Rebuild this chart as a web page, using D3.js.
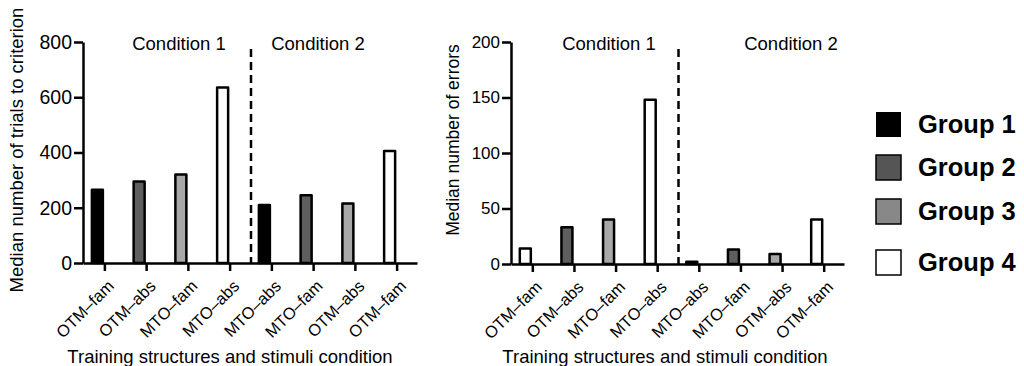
<!DOCTYPE html>
<html>
<head>
<meta charset="utf-8">
<script src="https://cdn.jsdelivr.net/npm/d3@7"></script>
<style>
  body { margin: 0; background: #fff; }
  svg { font-family: "Liberation Sans", Arial, sans-serif; }
  .axis path, .axis line { stroke: #000; stroke-width: 2.5px; }
</style>
</head>
<body>
<div id="chart"></div>
<script>
// categories (x labels, same for both panels)
const categories = ["OTM–fam", "OTM–abs", "MTO–fam", "MTO–abs", "MTO–abs", "MTO–fam", "OTM–abs", "OTM–fam"];
const conditions = ["Condition 1", "Condition 2"];

// left panel: median trials to criterion
const trialsValues = [265, 295, 320, 635, 210, 245, 215, 405];
const trialsGroups = [1, 2, 3, 4, 1, 2, 3, 4];
const trialsTicks = [0, 200, 400, 600, 800];

// right panel: median errors
const errorsValues = [14, 33, 40, 148, 2, 13, 9, 40];
const errorsGroups = [4, 2, 3, 4, 1, 2, 3, 4];
const errorsTicks = [0, 50, 100, 150, 200];

// legend
const groupNames = ["Group 1", "Group 2", "Group 3", "Group 4"];
const barColors = ["#000000", "#5e5e5e", "#a8a8a8", "#ffffff"];
const legendColors = ["#000000", "#555555", "#888888", "#ffffff"];

const svg = d3.select("#chart")
  .append("svg")
  .attr("width", 1024)
  .attr("height", 366);

function panel(opts) {
  const { left, right, top, bottom, values, groups, ticks, yTitle, tickFont, yTitleFont, condX, yTitleX, yTitleY, xTitleX } = opts;
  const g = svg.append("g");

  const x = d3.scaleBand().domain(d3.range(categories.length)).range([left, right]);
  const y = d3.scaleLinear().domain([0, d3.max(ticks)]).range([bottom, top]);

  // dashed separator between the two conditions
  g.append("line")
    .attr("x1", x(4) + 1).attr("x2", x(4) + 1)
    .attr("y1", top + 7).attr("y2", bottom)
    .attr("stroke", "#000")
    .attr("stroke-width", 2.5)
    .attr("stroke-dasharray", "8,5");

  // bars sit just left of each tick
  const bw = 11;
  g.selectAll(".bar")
    .data(values)
    .join("rect")
    .attr("class", "bar")
    .attr("x", (d, i) => x(i) + x.bandwidth() / 2 - bw - 1)
    .attr("y", (d) => y(d))
    .attr("width", bw)
    .attr("height", (d) => bottom - y(d))
    .attr("fill", (d, i) => barColors[groups[i] - 1])
    .attr("stroke", "#000")
    .attr("stroke-width", 2.5)
    .attr("stroke-linejoin", "round");

  // y axis
  const yAxis = g.append("g")
    .attr("class", "axis")
    .attr("transform", `translate(${left},0)`)
    .call(d3.axisLeft(y).tickValues(ticks).tickSize(9).tickSizeOuter(0).tickPadding(2));
  yAxis.selectAll("text").attr("font-size", tickFont).attr("fill", "#000").attr("font-family", null);

  // x axis
  const xAxis = g.append("g")
    .attr("class", "axis")
    .attr("transform", `translate(0,${bottom})`)
    .call(d3.axisBottom(x).tickFormat((i) => categories[i]).tickSize(8).tickSizeOuter(0));
  xAxis.selectAll(".tick").attr("transform", (i) => `translate(${x(i) + x.bandwidth() / 2 + 1},0)`);
  xAxis.selectAll("text")
    .attr("font-size", 16.5)
    .attr("fill", "#000")
    .attr("font-family", null)
    .attr("text-anchor", "end")
    .attr("dy", "0.35em")
    .attr("y", 0)
    .attr("transform", "translate(6,20) rotate(-45)");

  // condition labels
  conditions.forEach((c, k) => {
    g.append("text")
      .attr("x", condX[k])
      .attr("y", top + 8)
      .attr("text-anchor", "middle")
      .attr("font-size", 18.5)
      .text(c);
  });

  // axis titles
  g.append("text")
    .attr("transform", `translate(${yTitleX},${yTitleY}) rotate(-90)`)
    .attr("text-anchor", "middle")
    .attr("font-size", yTitleFont)
    .text(yTitle);

  g.append("text")
    .attr("x", xTitleX)
    .attr("y", 363)
    .attr("text-anchor", "middle")
    .attr("font-size", 18.5)
    .text("Training structures and stimuli condition");
}

panel({
  left: 83, right: 417, top: 42, bottom: 263,
  values: trialsValues, groups: trialsGroups, ticks: trialsTicks,
  yTitle: "Median number of trials to criterion", tickFont: 19.5, yTitleFont: 18.5,
  condX: [179, 318], yTitleX: 23, yTitleY: 150, xTitleX: 230
});

panel({
  left: 511, right: 844, top: 42, bottom: 264,
  values: errorsValues, groups: errorsGroups, ticks: errorsTicks,
  yTitle: "Median number of  errors", tickFont: 17, yTitleFont: 17.5,
  condX: [609, 791], yTitleX: 459, yTitleY: 140, xTitleX: 665
});

// legend
const legendY = [111, 154, 198, 249];
const legend = svg.append("g");
groupNames.forEach((name, i) => {
  legend.append("rect")
    .attr("x", 876).attr("y", legendY[i] + 1)
    .attr("width", 25).attr("height", 25)
    .attr("fill", legendColors[i])
    .attr("stroke", "#000")
    .attr("stroke-width", i === 0 ? 0 : 1.5);
  legend.append("text")
    .attr("x", 918).attr("y", legendY[i] + 22)
    .attr("font-size", 25.5)
    .attr("font-weight", "bold")
    .text(name);
});
</script>
</body>
</html>
